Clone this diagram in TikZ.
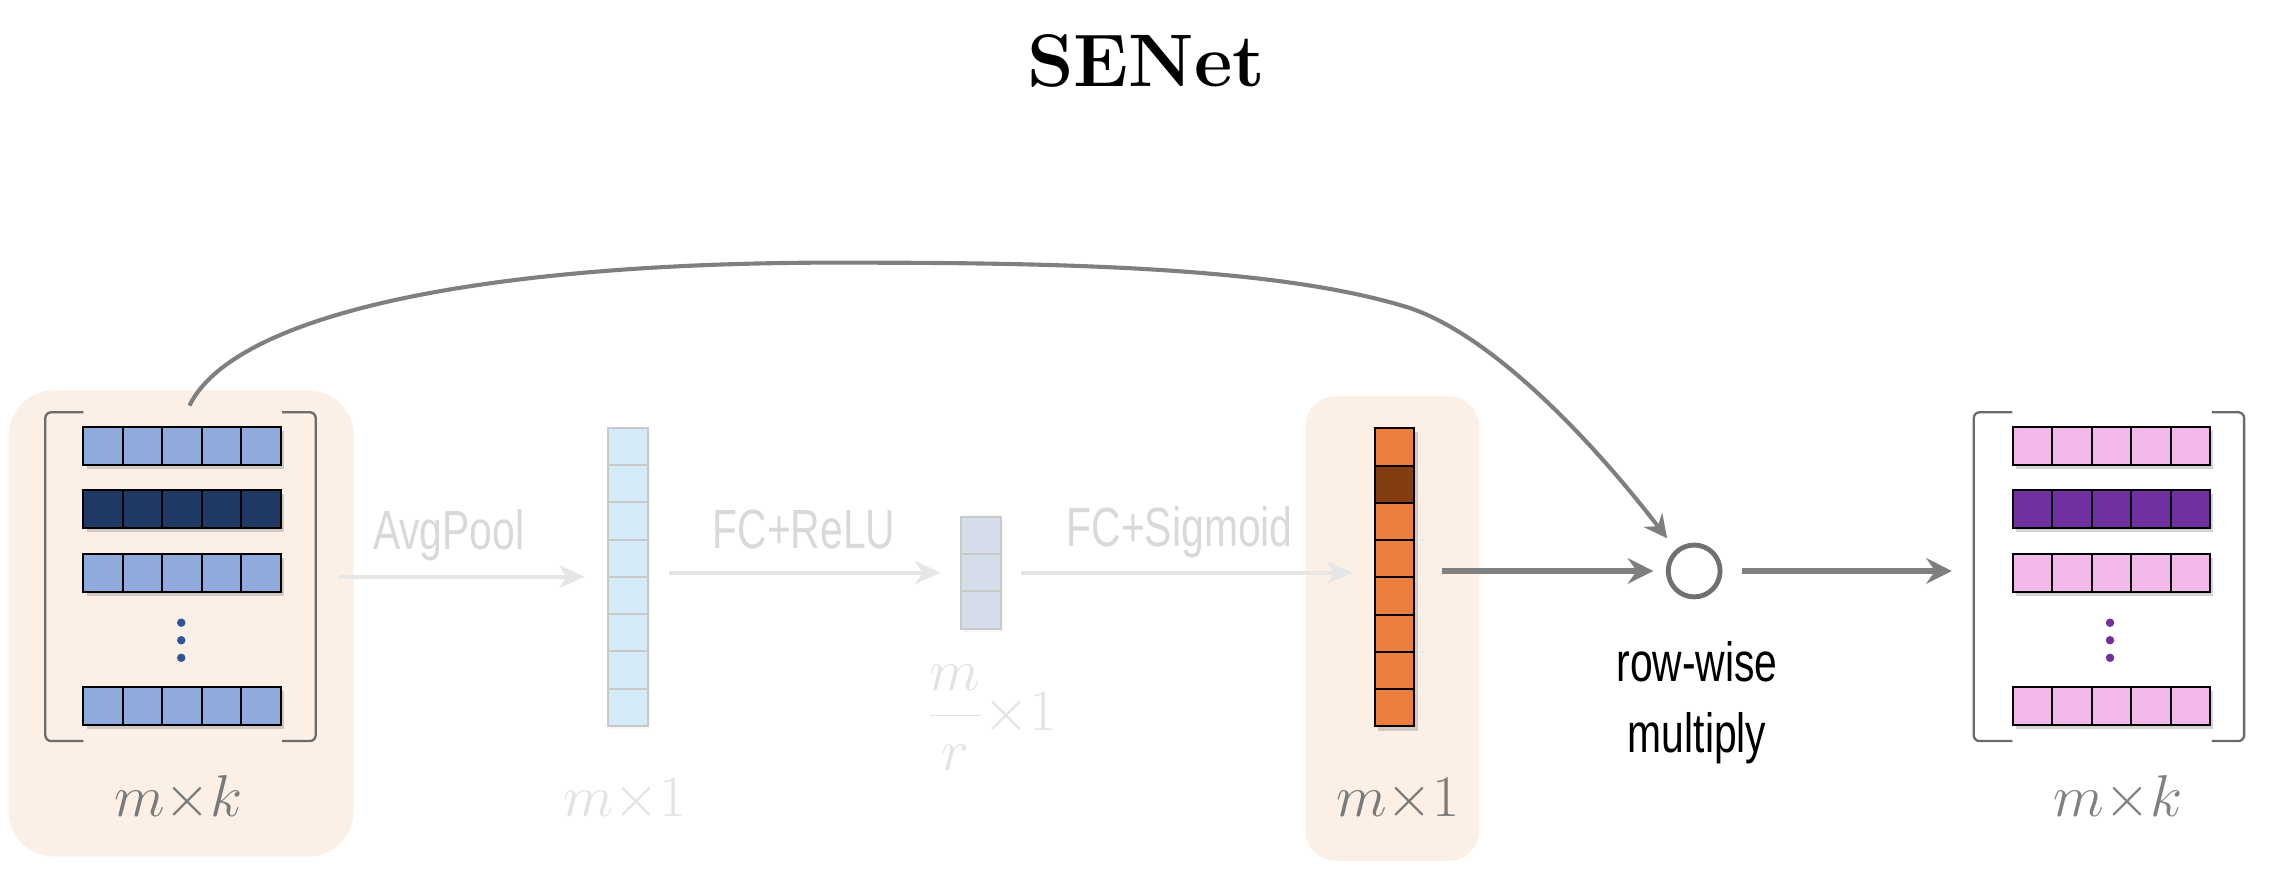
\RequirePackage{fix-cm}
\documentclass[tikz,border=0pt]{standalone}
\usepackage{fontspec}
\newfontfamily\lblfont[FakeStretch=0.74]{Liberation Sans}
\usetikzlibrary{arrows.meta,shadows,calc}
\definecolor{boxfill}{HTML}{FCEFE6}
\definecolor{rowblue}{HTML}{8FAADC}
\definecolor{rownavy}{HTML}{203864}
\definecolor{rowpink}{HTML}{F3B8EA}
\definecolor{rowpurple}{HTML}{7030A0}
\definecolor{dotblue}{HTML}{2F5597}
\definecolor{vecblue}{HTML}{D6EBF8}
\definecolor{vecgrey}{HTML}{D5DDEA}
\definecolor{vecorange}{HTML}{EA7F3D}
\definecolor{vecbrown}{HTML}{843C12}
\definecolor{fadeline}{HTML}{E6E6E6}
\definecolor{fadetext}{HTML}{D9D9D9}
\definecolor{fademath}{HTML}{E3E3E3}
\definecolor{fadeborder}{HTML}{C9C9C9}
\definecolor{darkarrow}{HTML}{7F7F7F}
\definecolor{multgrey}{HTML}{707070}
\definecolor{bracketgrey}{HTML}{6B6B6B}
\definecolor{labelgrey}{HTML}{7A7A7A}

\newcommand\mkrow[4]{%
  \node[rowcell, fill=#4, anchor=north west] (#1) at (#2,#3) {};
  \foreach \k in {1,...,4}{\draw[cellsep] ($(#1.north west)+(\k*27,0)$) -- ($(#1.south west)+(\k*27,0)$);}%
}
% name, cx, ytop, ncells, nsep, fill, border, extra
\newcommand\mkvec[8]{%
  \node[veccell, minimum height=#4*0.51cm, fill=#6, draw=#7, #8, anchor=north] (#1) at (#2,#3) {};
  \foreach \k in {1,...,#5}{\draw[draw=#7, line width=0.8pt] ($(#1.north west)+(0,\k*25.5)$) -- ($(#1.north east)+(0,\k*25.5)$);}%
}

\begin{document}
\begin{tikzpicture}[x=0.02cm, y=-0.02cm,
  bgbox/.style={fill=boxfill, draw=none, rounded corners=0.62cm, inner sep=0pt, outer sep=0pt},
  rowcell/.style={draw=black, line width=0.8pt, minimum width=2.7cm, minimum height=0.52cm, inner sep=0pt, outer sep=0pt,
    drop shadow={shadow xshift=1.3pt, shadow yshift=-1.6pt, opacity=0.35}},
  cellsep/.style={draw=black, line width=0.8pt},
  veccell/.style={minimum width=0.54cm, inner sep=0pt, outer sep=0pt, line width=0.8pt},
  matbox/.style={minimum width=3.7cm, minimum height=4.5cm, inner sep=0pt, outer sep=0pt},
  brk/.style={draw=bracketgrey, line width=0.9pt, rounded corners=0.08cm},
  fadearrow/.style={draw=fadeline, line width=1.6pt, -{Stealth[length=10pt, width=9pt, inset=3pt]}},
  darkarr/.style={draw=darkarrow, line width=2pt, -{Stealth[length=10pt, width=10pt, inset=3.5pt]}},
  curvearr/.style={draw=darkarrow, line width=1.6pt, -{Stealth[length=9pt, width=9pt, inset=3pt]}},
  txt/.style={font=\lblfont\fontsize{21.5}{25}\selectfont, inner sep=0pt, anchor=base},
  mth/.style={font=\fontsize{23}{27}\selectfont, inner sep=0pt, anchor=base}
]
\useasboundingbox (0,0) rectangle (1568,609);

% title
\node[font=\fontsize{29}{34}\selectfont\bfseries, inner sep=0pt] (title) at (784,42) {SENet};

% background boxes
\node[bgbox, minimum width=4.72cm, minimum height=6.38cm] (inbox) at (124,426.5) {};
\node[bgbox, rounded corners=0.42cm, minimum width=2.38cm, minimum height=6.36cm] (sigbox) at (952.5,430) {};

% input matrix
\node[matbox] (inmat) at (123.5,394.5) {};
\draw[brk] ($(inmat.north west)+(26,0)$) -- (inmat.north west) -- (inmat.south west) -- ++(26,0);
\draw[brk] ($(inmat.north east)+(-23,0)$) -- (inmat.north east) -- (inmat.south east) -- ++(-23,0);
\mkrow{in1}{57}{292}{rowblue}
\mkrow{in2}{57}{335}{rownavy}
\mkrow{in3}{57}{379}{rowblue}
\mkrow{in4}{57}{470}{rowblue}
\foreach \yy in {426,438,450} \fill[dotblue] (124,\yy) circle[radius=0.058cm];

% output matrix
\node[matbox] (outmat) at (1442.75,394.5) {};
\draw[brk] ($(outmat.north west)+(26.5,0)$) -- (outmat.north west) -- (outmat.south west) -- ++(26.5,0);
\draw[brk] ($(outmat.north east)+(-22,0)$) -- (outmat.north east) -- (outmat.south east) -- ++(-22,0);
\mkrow{out1}{1377}{292}{rowpink}
\mkrow{out2}{1377}{335}{rowpurple}
\mkrow{out3}{1377}{379}{rowpink}
\mkrow{out4}{1377}{470}{rowpink}
\foreach \yy in {426,438,450} \fill[rowpurple] (1443.5,\yy) circle[radius=0.058cm];

% vectors
\mkvec{vec1}{429.5}{292.6}{8}{7}{vecblue}{fadeborder}{drop shadow={shadow xshift=1pt, shadow yshift=-1.3pt, opacity=0.08}}
\mkvec{vec2}{671}{353.5}{3}{2}{vecgrey}{fadeborder}{drop shadow={shadow xshift=1pt, shadow yshift=-1.3pt, opacity=0.08}}
\mkvec{vec3}{954}{293}{8}{7}{vecorange}{black}{drop shadow={shadow xshift=1.3pt, shadow yshift=-1.6pt, opacity=0.35}}
\fill[vecbrown] ($(vec3.north west)+(0,25.5)$) rectangle ($(vec3.north east)+(0,51)$);
\draw[line width=0.8pt] ($(vec3.north west)+(0,25.5)$) -- ($(vec3.north east)+(0,25.5)$);
\draw[line width=0.8pt] ($(vec3.north west)+(0,51)$) -- ($(vec3.north east)+(0,51)$);
\draw[line width=0.8pt] (vec3.north west) rectangle (vec3.south east);

% multiply node
\node[circle, draw=multgrey, line width=1.9pt, minimum size=0.71cm, inner sep=0pt] (mult) at (1159,390.6) {};

% step labels
\node[txt, text=fadetext] (lavg) at (307,376) {AvgPool};
\node[txt, text=fadetext] (lrelu) at (550,375) {FC+ReLU};
\node[txt, text=fadetext] (lsig) at (807,374) {FC+Sigmoid};
\node[txt, text=black] (lrow) at (1161,466.5) {row-wise};
\node[txt, text=black] (lmul) at (1161,515) {multiply};

% size labels
\node[mth, text=labelgrey] (sin) at (122,558.7) {$m{\times}k$};
\node[mth, text=fademath] (svec1) at (427.6,558.7) {$m{\times}1$};
\node[mth, text=fademath] (svec2) at (678.5,499.4) {$\displaystyle\frac{m}{r}{\times}1$};
\node[mth, text=labelgrey] (svec3) at (956.5,558.7) {$m{\times}1$};
\node[mth, text=gray] (sout) at (1449,558.7) {$m{\times}k$};

% arrows
\coordinate (avgstart) at (232,394.5);
\draw[fadearrow, shorten >=0.32cm] (avgstart) -- (vec1.west |- avgstart);
\draw[fadearrow, shorten <=0.3cm, shorten >=0.28cm] (vec1.east |- vec2.west) -- (vec2.west);
\draw[fadearrow, shorten <=0.28cm, shorten >=0.31cm] (vec2.east) -- (vec2.east -| vec3.west);
\draw[darkarr, shorten <=0.38cm, shorten >=0.17cm] (vec3.east |- mult.west) -- (mult.west);
\draw[darkarr, shorten <=0.26cm, shorten >=0.3cm] (mult.east) -- (mult.east -| outmat.west);

% skip connection
\coordinate (skipstart) at (129.6,277.5);
\coordinate (skipend) at ($(mult.center)+(-18.5,-22.3)$);
\draw[curvearr] (skipstart) .. controls (160,215) and (330,178) .. (589.6,179.7)
  .. controls (750,179.7) and (880,185) .. (961.5,209.8)
  .. controls (1020,227.6) and (1090.7,303.3) .. (skipend);
\end{tikzpicture}
\end{document}
